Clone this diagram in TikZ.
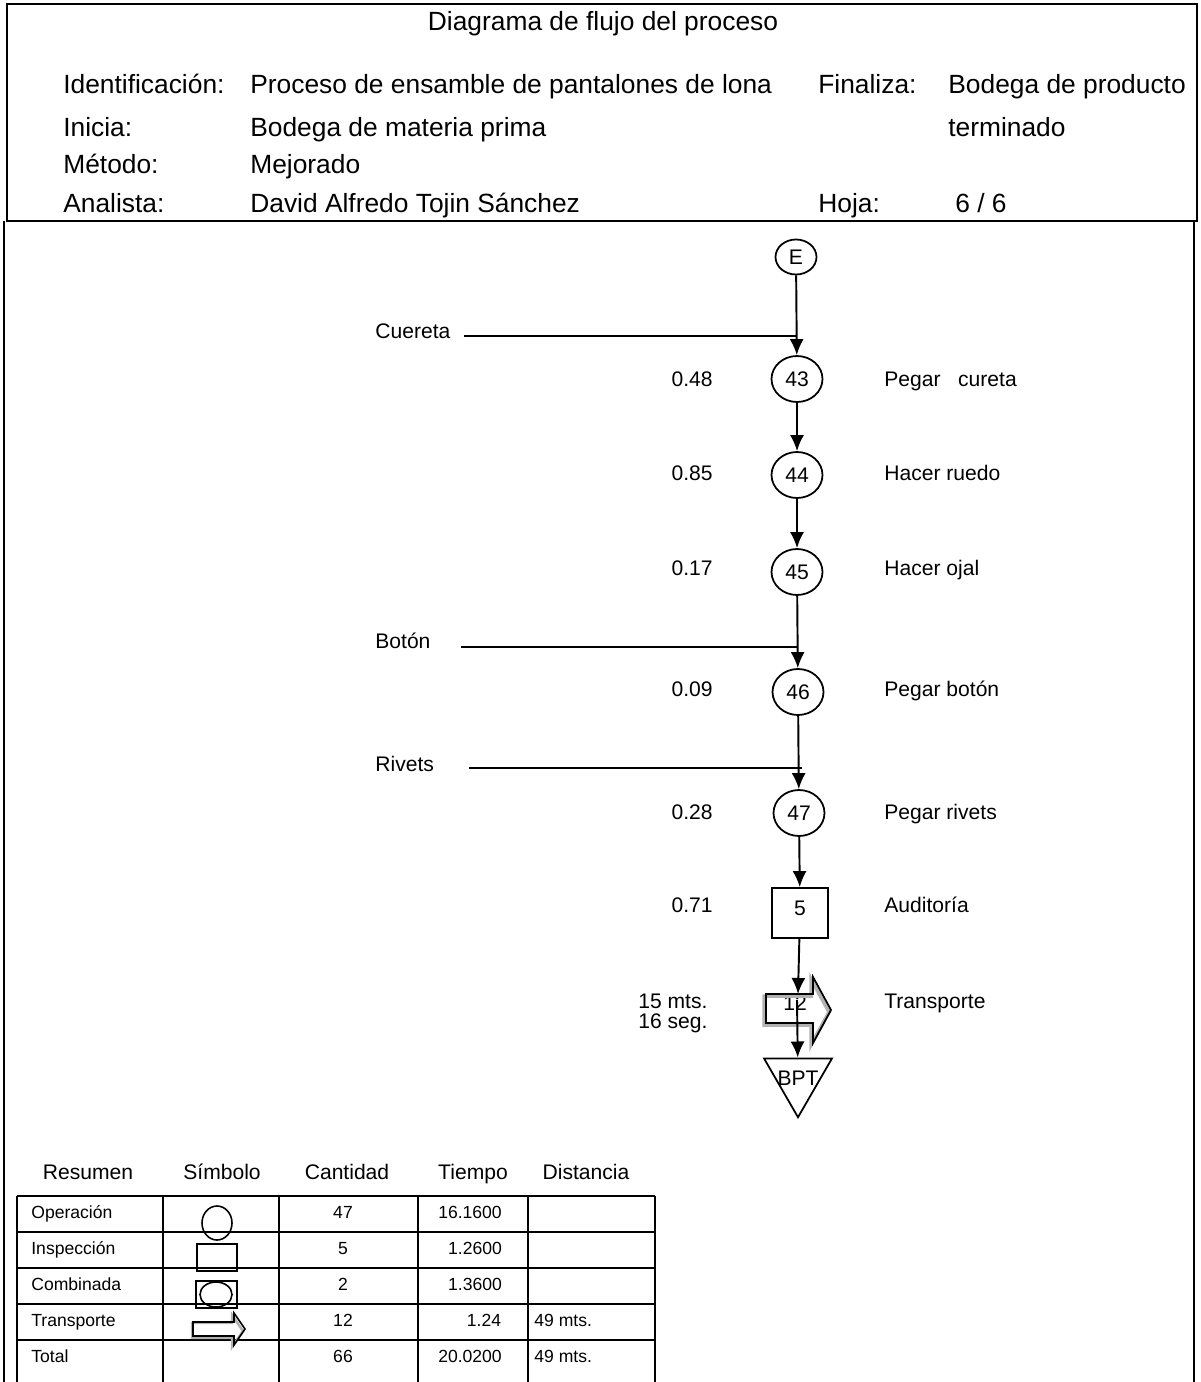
\documentclass[tikz,border=0pt]{standalone}
\usepackage{fontspec}
\setmainfont{Liberation Sans}
\usetikzlibrary{arrows.meta}
\usetikzlibrary{shapes.geometric}
\usetikzlibrary{positioning}

\begin{document}
\begin{tikzpicture}[x=0.02cm,y=-0.02cm]
	%\draw[help lines] (0,0) grid (1200,1382);
	\useasboundingbox (0,0) rectangle (1200,1382);

	\tikzstyle{hnode} = [font=\fontsize{15}{18}\selectfont,anchor=base west,inner sep=0]
	\tikzstyle{lnode} = [font=\fontsize{12}{14}\selectfont,inner sep=0]
	\tikzstyle{cnode} = [font=\fontsize{10}{12}\selectfont,anchor=base,inner sep=0]
	\tikzstyle{onode} = [ellipse,draw,line width=1pt,minimum width=1.02cm,minimum height=0.92cm,inner sep=0,font=\fontsize{12}{14}\selectfont]
	\tikzstyle{qnode} = [rectangle,draw,line width=1pt,minimum width=1.12cm,minimum height=1cm,inner sep=0,font=\fontsize{12}{14}\selectfont]
	\tikzstyle{snode} = [regular polygon,regular polygon sides=3,shape border rotate=180,draw,line width=1pt,minimum size=1.57cm,inner sep=0,font=\fontsize{12}{14}\selectfont]
	\tikzstyle{fedge} = [-{Latex[length=3.2mm,width=2.8mm]},line width=1.1pt]
	\tikzstyle{mline} = [line width=1.1pt]
	\tikzstyle{frame} = [line width=1.6pt]
	\tikzstyle{cell} = [line width=0.9pt]

	% frames
	\draw[frame] (7,4) rectangle (1197,221);
	\draw[frame] (4,221) -- (4,1382);
	\draw[frame] (1194,221) -- (1194,1382);

	% header
	\node[hnode,anchor=base] (title) at (603,31) {Diagrama de flujo del proceso};
	\node[hnode] (idk) at (63,94) {Identificación:};
	\node[hnode] (idv) at (250,94) {Proceso de ensamble de pantalones de lona};
	\node[hnode] (fik) at (818,94) {Finaliza:};
	\node[hnode] (fiv) at (948,94) {Bodega de producto};
	\node[hnode] (ink) at (63,137) {Inicia:};
	\node[hnode] (inv) at (250,137) {Bodega de materia prima};
	\node[hnode] (fiv2) at (948,137) {terminado};
	\node[hnode] (mek) at (63,174) {Método:};
	\node[hnode] (mev) at (250,174) {Mejorado};
	\node[hnode] (ank) at (63,213) {Analista:};
	\node[hnode] (anv) at (250,213) {David Alfredo Tojin Sánchez};
	\node[hnode] (hok) at (818,213) {Hoja:};
	\node[hnode] (hov) at (955,213) {6 / 6};

	% flow
	\node[onode,minimum width=0.82cm,minimum height=0.7cm] (e) at (796,257) {E};
	\node[onode] (o43) at (797,379) {43};
	\node[onode] (o44) at (797,475) {44};
	\node[onode] (o45) at (797,572) {45};
	\node[onode] (o46) at (798,692) {46};
	\node[onode] (o47) at (799,813) {47};
	\node[qnode] (q5) at (800,913) {\raisebox{0.2cm}{5}};
	\node[lnode] (t12) at (795,1003) {12};
	\coordinate (ttop) at (798,994);
	\coordinate (tmid) at (797,1000);
	\node[snode] (bpt) at (798,1078) {\makebox[0pt]{BPT}};

	\draw[gray!60,line width=2pt] (764,996) -- (811,996) -- (811,979) -- (829,1012) -- (811,1045) -- (811,1025) -- (764,1025) -- cycle;
	\draw[line width=1pt] (766,994) -- (813,994) -- (813,977) -- (831,1010) -- (813,1043) -- (813,1023) -- (766,1023) -- cycle;

	\node[lnode,anchor=west] (cue) at (375,331) {Cuereta};
	\node[lnode,anchor=west] (bot) at (375,641) {Botón};
	\node[lnode,anchor=west] (riv) at (375,764) {Rivets};
	\coordinate (cue-a) at (464,336);
	\coordinate (cue-b) at (797,336);
	\coordinate (bot-a) at (461,647);
	\coordinate (bot-b) at (797,647);
	\coordinate (riv-a) at (469,768);
	\coordinate (riv-b) at (802,768);

	\node[lnode,anchor=east] (t43) at (713,379) {0.48};
	\node[lnode,anchor=east] (t44) at (713,473) {0.85};
	\node[lnode,anchor=east] (t45) at (713,568) {0.17};
	\node[lnode,anchor=east] (t46) at (713,689) {0.09};
	\node[lnode,anchor=east] (t47) at (713,812) {0.28};
	\node[lnode,anchor=east] (t5) at (713,905) {0.71};
	\node[lnode,anchor=west] (t12a) at (638,1001) {15 mts.};
	\node[lnode,anchor=west] (t12b) at (638,1023) {16 seg.};

	\node[lnode,anchor=base west] (d43) at (884,386) {Pegar\ \ \ cureta};
	\node[lnode,anchor=base west] (d44) at (884,480) {Hacer ruedo};
	\node[lnode,anchor=base west] (d45) at (884,575) {Hacer ojal};
	\node[lnode,anchor=base west] (d46) at (884,696) {Pegar botón};
	\node[lnode,anchor=base west] (d47) at (884,819) {Pegar rivets};
	\node[lnode,anchor=base west] (d5) at (884,912) {Auditoría};
	\node[lnode,anchor=base west] (d12) at (884,1008) {Transporte};

	\draw[mline] (cue-a) -- (cue-b);
	\draw[mline] (bot-a) -- (bot-b);
	\draw[mline] (riv-a) -- (riv-b);
	\draw (e) edge [fedge] (o43);
	\draw (o43) edge [fedge] (o44);
	\draw (o44) edge [fedge] (o45);
	\draw (o45) edge [fedge] (o46);
	\draw (o46) edge [fedge] (o47);
	\draw (o47) edge [fedge] (q5);
	\draw (q5) edge [fedge] (ttop);
	\draw (tmid) edge [fedge] (bpt);

	% summary
	\node[lnode,anchor=base] (h1) at (88,1179) {Resumen};
	\node[lnode,anchor=base] (h2) at (222,1179) {Símbolo};
	\node[lnode,anchor=base] (h3) at (347,1179) {Cantidad};
	\node[lnode,anchor=base] (h4) at (473,1179) {Tiempo};
	\node[lnode,anchor=base] (h5) at (586,1179) {Distancia};

	\foreach \y in {1196,1232,1268,1304,1340}
		\draw[cell] (17,\y) -- (655,\y);
	\foreach \x in {17,163,279,418,528,655}
		\draw[cell] (\x,1196) -- (\x,1382);

	\foreach \nm/\qt/\tm/\tx/\ds/\ry [count=\i] in {Operación/47/16.1600/470/{}/1196,Inspección/5/1.2600/475/{}/1232,Combinada/2/1.3600/475/{}/1268,Transporte/12/1.24/484/49 mts./1304,Total/66/20.0200/470/49 mts./1340}
	{
		\node[cnode,anchor=base west] (rn\i) at (31,\ry+22) {\nm};
		\node[cnode] (rq\i) at (343,\ry+22) {\qt};
		\node[cnode] (rt\i) at (\tx,\ry+22) {\tm};
		\node[cnode,anchor=base west] (rd\i) at (534,\ry+22) {\ds};
	}

	\draw[cell] (217,1223) ellipse [x radius=15, y radius=17];
	\draw[cell] (197,1244) rectangle (237,1271);
	\draw[cell] (196,1281) rectangle (237,1308);
	\draw[cell] (216,1294.5) ellipse [x radius=16, y radius=12.5];
	\draw[gray!60,line width=1.4pt] (192,1323) -- (232,1323) -- (232,1315) -- (243,1331) -- (232,1347) -- (232,1338) -- (192,1338) -- cycle;
	\draw[cell] (193,1322) -- (234,1322) -- (234,1313) -- (245,1329) -- (234,1345) -- (234,1336) -- (193,1336) -- cycle;

\end{tikzpicture}
\end{document}
